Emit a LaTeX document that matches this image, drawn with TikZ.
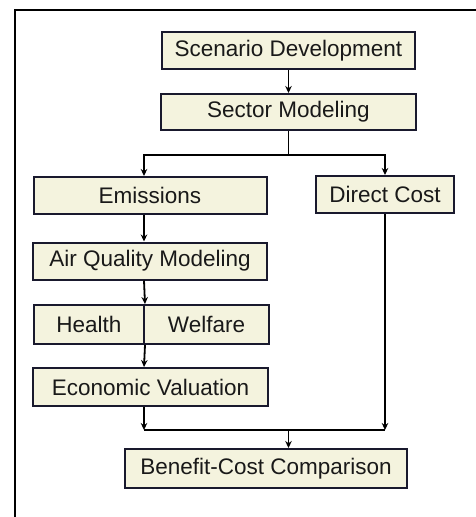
\documentclass[tikz,border=0pt]{standalone}
\usepackage{fontspec}
\setmainfont{Liberation Sans}
\usetikzlibrary{arrows.meta}
\definecolor{boxfill}{RGB}{244,243,222}
\definecolor{boxline}{RGB}{25,25,45}
\begin{document}
\begin{tikzpicture}[x=1pt,y=-1pt,
  box/.style={draw=boxline, line width=2pt, fill=boxfill, inner sep=0pt,
    font=\fontsize{22.5}{26}\selectfont, text=black!90},
  conn/.style={line width=1.8pt, draw=black},
  arr/.style={conn, -{Stealth[length=7pt,width=6.5pt]}}]
\useasboundingbox (0,0) rectangle (475,517);
\draw[line width=2.8pt] (15,520) -- (15,10) -- (480,10);
\node[box, minimum width=253pt, minimum height=37pt] (sd) at (288.5,50.5) {Scenario Development};
\node[box, minimum width=255pt, minimum height=36pt] (sm) at (288.5,112) {Sector Modeling};
\node[box, minimum width=233pt, minimum height=37pt] (em) at (150,195.5) {Emissions};
\node[box, minimum width=138pt, minimum height=37pt] (dc) at (385,194.5) {Direct Cost};
\node[box, minimum width=234pt, minimum height=37pt] (aq) at (150,261) {Air Quality Modeling};
\node[box, minimum width=110pt, minimum height=39pt] (he) at (89,324.5) {Health};
\node[box, minimum width=125pt, minimum height=39pt] (we) at (206.5,324.5) {Welfare};
\node[box, minimum width=235pt, minimum height=38pt] (ev) at (150.5,387) {Economic Valuation};
\node[box, minimum width=282pt, minimum height=39pt] (bc) at (266,468.5) {Benefit-Cost Comparison};
\coordinate (colL) at (144,0);
\coordinate (split) at (288.5,155);
\coordinate (join) at (288.5,430);
\draw[arr] (sd.south) -- (sm.north);
\draw[conn] (sm.south) -- (split);
\draw[arr] (split) -| (em.north -| colL);
\draw[arr] (split) -| (dc.north);
\draw[arr] (em.south -| colL) -- (aq.north -| colL);
\draw[arr] (aq.south -| colL) -- (he.north east);
\draw[arr] (he.south east) -- (ev.north -| colL);
\draw[arr] (ev.south -| colL) -- (colL |- join);
\draw[arr] (dc.south) -- (dc.south |- join);
\draw[conn] (colL |- join) -- (dc.south |- join);
\draw[arr] (join) -- (bc.north -| join);
\end{tikzpicture}
\end{document}
